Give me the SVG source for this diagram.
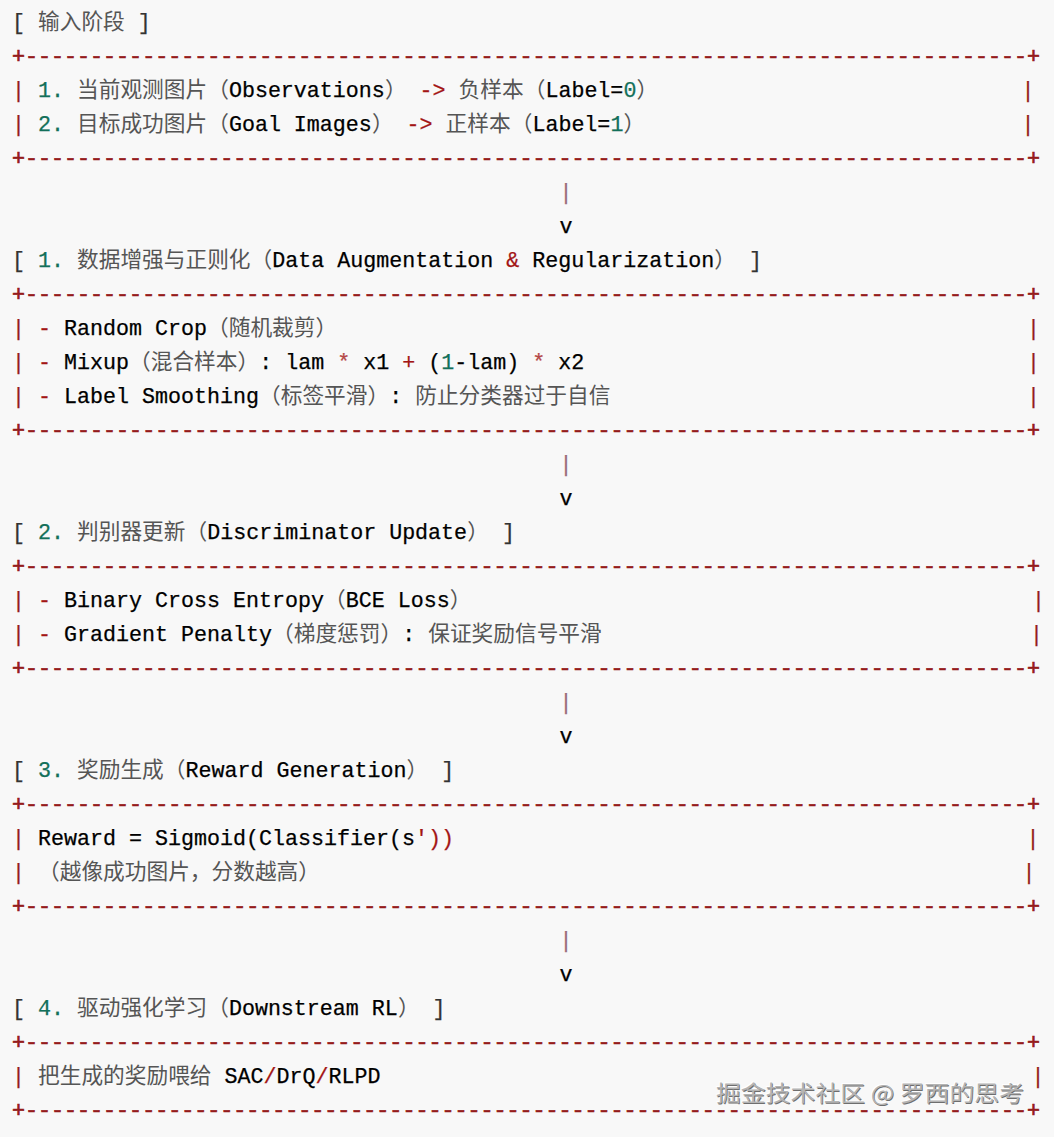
<svg xmlns="http://www.w3.org/2000/svg" xmlns:xlink="http://www.w3.org/1999/xlink" width="1054" height="1137" viewBox="0 0 1054 1137">
<style>
.m { font-family: "Liberation Mono", "DejaVu Sans Mono", monospace; font-size: 21.67px; fill: #000; stroke: #000; stroke-width: 0.25px; }
.c { font-family: "Noto Sans CJK SC", "Noto Sans", sans-serif; font-size: 21.7px; fill: #555; }
.b { fill: #951b1b; stroke: #951b1b; }
.rl { stroke-width: 0.7px; }
.r { fill: #a31515; stroke: #a31515; }
.s { fill: #b54848; stroke: #b54848; }
.n { fill: #13705a; stroke: #13705a; }
.g { fill: #333; stroke: #333; }
.a { fill: #9a6878; stroke: #9a6878; }
.mid { text-anchor: middle; }
.wm { font-family: "Noto Sans CJK SC", sans-serif; font-size: 22px; }
</style>
<defs>
<text id="rule" class="m b rl" x="12" y="0" textLength="1028" lengthAdjust="spacing">+-----------------------------------------------------------------------------+</text>
</defs>
<rect x="0" y="0" width="1054" height="1137" fill="#f8f8f8"/>

<g id="stage-input">
<text y="29"><tspan class="m g" x="12">[</tspan><tspan class="c" x="38">输入阶段</tspan><tspan class="m g" x="137.8">]</tspan></text>
<use href="#rule" y="63"/>
<text y="97"><tspan class="m b" x="12">|</tspan><tspan class="m n" x="38">1.</tspan><tspan class="c" x="77">当前观测图片（</tspan><tspan class="m" x="228.9">Observations</tspan><tspan class="c" x="384.9">）</tspan><tspan class="m r" x="419.6">-&gt;</tspan><tspan class="c" x="458.6">负样本（</tspan><tspan class="m" x="545.4">Label=</tspan><tspan class="m n" x="623.4">0</tspan><tspan class="c" x="636.4">）</tspan></text>
<text y="97" class="m b mid" x="1028">|</text>
<text y="131"><tspan class="m b" x="12">|</tspan><tspan class="m n" x="38">2.</tspan><tspan class="c" x="77">目标成功图片（</tspan><tspan class="m" x="228.9">Goal Images</tspan><tspan class="c" x="371.9">）</tspan><tspan class="m r" x="406.6">-&gt;</tspan><tspan class="c" x="445.6">正样本（</tspan><tspan class="m" x="532.4">Label=</tspan><tspan class="m n" x="610.4">1</tspan><tspan class="c" x="623.4">）</tspan></text>
<text y="131" class="m b mid" x="1028">|</text>
<use href="#rule" y="165"/>
</g>

<g id="stage-1-augmentation">
<text y="267"><tspan class="m g" x="12">[</tspan><tspan class="m n" x="38">1.</tspan><tspan class="c" x="77">数据增强与正则化（</tspan><tspan class="m" x="272.3">Data Augmentation</tspan><tspan class="m r" x="506.3">&amp;</tspan><tspan class="m" x="532.3">Regularization</tspan><tspan class="c" x="714.3">）</tspan><tspan class="m g" x="749">]</tspan></text>
<use href="#rule" y="301"/>
<text y="335"><tspan class="m b" x="12">|</tspan><tspan class="m r" x="38">-</tspan><tspan class="m" x="64">Random Crop</tspan><tspan class="c" x="207">（随机裁剪）</tspan></text>
<text y="335" class="m b mid" x="1033.5">|</text>
<text y="369"><tspan class="m b" x="12">|</tspan><tspan class="m r" x="38">-</tspan><tspan class="m" x="64">Mixup</tspan><tspan class="c" x="129">（混合样本）</tspan><tspan class="m" x="259.2">: lam</tspan><tspan class="m s" x="337.2">*</tspan><tspan class="m" x="363.2">x1</tspan><tspan class="m r" x="402.2">+</tspan><tspan class="m" x="428.2">(</tspan><tspan class="m n" x="441.2">1</tspan><tspan class="m" x="454.2">-lam)</tspan><tspan class="m s" x="532.2">*</tspan><tspan class="m" x="558.2">x2</tspan></text>
<text y="369" class="m b mid" x="1033.5">|</text>
<text y="403"><tspan class="m b" x="12">|</tspan><tspan class="m r" x="38">-</tspan><tspan class="m" x="64">Label Smoothing</tspan><tspan class="c" x="259">（标签平滑）</tspan><tspan class="m" x="389.2">:</tspan><tspan class="c" x="415.2">防止分类器过于自信</tspan></text>
<text y="403" class="m b mid" x="1033.5">|</text>
<use href="#rule" y="437"/>
</g>

<g id="stage-2-discriminator">
<text y="539"><tspan class="m g" x="12">[</tspan><tspan class="m n" x="38">2.</tspan><tspan class="c" x="77">判别器更新（</tspan><tspan class="m" x="207.2">Discriminator Update</tspan><tspan class="c" x="467.2">）</tspan><tspan class="m g" x="501.9">]</tspan></text>
<use href="#rule" y="573"/>
<text y="607"><tspan class="m b" x="12">|</tspan><tspan class="m r" x="38">-</tspan><tspan class="m" x="64">Binary Cross Entropy</tspan><tspan class="c" x="324">（</tspan><tspan class="m" x="345.7">BCE Loss</tspan><tspan class="c" x="449.7">）</tspan></text>
<text y="607" class="m b mid" x="1038.5">|</text>
<text y="641"><tspan class="m b" x="12">|</tspan><tspan class="m r" x="38">-</tspan><tspan class="m" x="64">Gradient Penalty</tspan><tspan class="c" x="272">（梯度惩罚）</tspan><tspan class="m" x="402.2">:</tspan><tspan class="c" x="428.2">保证奖励信号平滑</tspan></text>
<text y="641" class="m b mid" x="1036.5">|</text>
<use href="#rule" y="675"/>
</g>

<g id="stage-3-reward">
<text y="777"><tspan class="m g" x="12">[</tspan><tspan class="m n" x="38">3.</tspan><tspan class="c" x="77">奖励生成（</tspan><tspan class="m" x="185.5">Reward Generation</tspan><tspan class="c" x="406.5">）</tspan><tspan class="m g" x="441.2">]</tspan></text>
<use href="#rule" y="811"/>
<text y="845"><tspan class="m b" x="12">|</tspan><tspan class="m" x="38">Reward = Sigmoid(Classifier(s</tspan><tspan class="m r" x="415">'))</tspan></text>
<text y="845" class="m b mid" x="1033">|</text>
<text y="879"><tspan class="m b" x="12">|</tspan><tspan class="c" x="38">（越像成功图片，分数越高）</tspan></text>
<text y="879" class="m b mid" x="1029">|</text>
<use href="#rule" y="913"/>
</g>

<g id="stage-4-rl">
<text y="1015"><tspan class="m g" x="12">[</tspan><tspan class="m n" x="38">4.</tspan><tspan class="c" x="77">驱动强化学习（</tspan><tspan class="m" x="228.9">Downstream RL</tspan><tspan class="c" x="397.9">）</tspan><tspan class="m g" x="432.6">]</tspan></text>
<use href="#rule" y="1049"/>
<text y="1083"><tspan class="m b" x="12">|</tspan><tspan class="c" x="38">把生成的奖励喂给</tspan><tspan class="m" x="224.6">SAC</tspan><tspan class="m r" x="263.6">/</tspan><tspan class="m" x="276.6">DrQ</tspan><tspan class="m r" x="315.6">/</tspan><tspan class="m" x="328.6">RLPD</tspan></text>
<text y="1083" class="m b mid" x="1038">|</text>
<use href="#rule" y="1117"/>
</g>

<g id="connectors">
<text class="m a mid" x="566" y="199">|</text>
<text class="m mid" x="566" y="233">v</text>
<text class="m a mid" x="566" y="471">|</text>
<text class="m mid" x="566" y="505">v</text>
<text class="m a mid" x="566" y="709">|</text>
<text class="m mid" x="566" y="743">v</text>
<text class="m a mid" x="566" y="947">|</text>
<text class="m mid" x="566" y="981">v</text>
</g>

<g id="watermark">
<text class="wm" x="715" y="1100" fill="#ffffff" textLength="308" lengthAdjust="spacingAndGlyphs">掘金技术社区 @ 罗西的思考</text>
<text class="wm" x="716.8" y="1101.8" fill="#6e6e6e" textLength="308" lengthAdjust="spacingAndGlyphs">掘金技术社区 @ 罗西的思考</text>
<text class="wm" x="716" y="1101" fill="#b4b4b4" textLength="308" lengthAdjust="spacingAndGlyphs">掘金技术社区 @ 罗西的思考</text>
</g>
</svg>
